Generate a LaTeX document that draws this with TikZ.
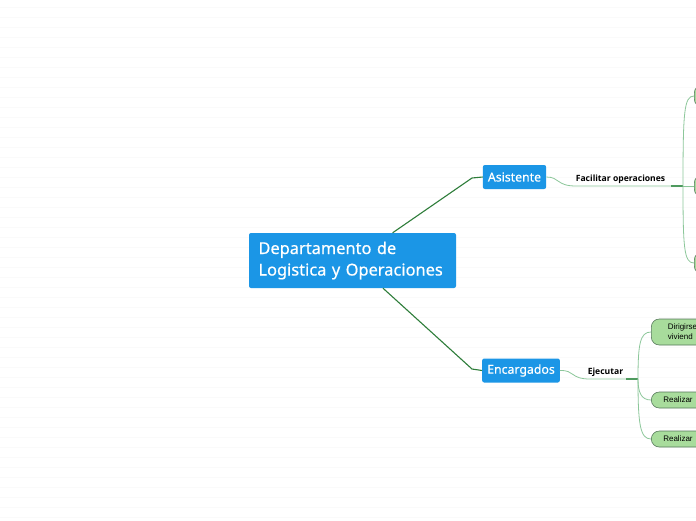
\documentclass[tikz,border=0pt]{standalone}
\usepackage{fontspec}
\setsansfont{Noto Sans}
\newfontfamily\topicfont[FakeBold=0.5]{Noto Sans}
\newfontfamily\leaffont{Liberation Sans}
\newfontfamily\lblfont{Open Sans}
\usepackage{xcolor}
\usetikzlibrary{calc,positioning}

\definecolor{topicblue}{HTML}{1B96E6}
\definecolor{trunkgreen}{HTML}{2E7D3A}
\definecolor{branchgreen}{HTML}{8CC79A}
\definecolor{forkgreen}{HTML}{4E9A5E}
\definecolor{leafgreen}{HTML}{A8DC9C}
\definecolor{leafedge}{HTML}{55785A}

\tikzset{
  central/.style={fill=topicblue, rounded corners=2pt, text=white, align=left,
    minimum width=207, minimum height=55, text width=188, inner xsep=9.5,
    font=\topicfont\fontsize{16.4}{21.5}\selectfont},
  topic/.style={fill=topicblue, rounded corners=2pt, text=white,
    minimum height=24, inner xsep=5, font=\topicfont\fontsize{12.3}{15}\selectfont},
  leaf/.style={fill=leafgreen, draw=leafedge, line width=0.6pt, rounded corners=8pt,
    anchor=west, align=left, text width=60, inner xsep=12, inner ysep=2,
    font=\leaffont\fontsize{8}{10}\selectfont},
  lbl/.style={anchor=base, inner sep=0, font=\lblfont\bfseries\fontsize{8.6}{10}\selectfont},
  trunk/.style={draw=trunkgreen, line width=1.1pt},
  branch/.style={draw=branchgreen, line width=0.8pt},
  forkbit/.style={draw=forkgreen, line width=1.4pt},
  gridline/.style={draw=black!2, line width=1pt}
}

\begin{document}
\begin{tikzpicture}[x=1pt, y=-1pt]
  \useasboundingbox (0,0) rectangle (696,520);
  \clip (0,0) rectangle (696,520);
  \fill[white] (0,0) rectangle (696,520);

  % faint ruled background
  \foreach \y in {7,17,...,517}{
    \draw[gridline] (0,\y) -- (696,\y);
  }

  % topics
  \node[central] (main) at (352.5,260.5) {Departamento de\\Logistica y Operaciones};
  \node[topic, minimum width=61] (asis) at (514.5,177) {Asistente};
  \node[topic, minimum width=76] (enc) at (521,370.5) {Encargados};

  % relation labels
  \node[lbl] (facil) at (620.5,181) {Facilitar operaciones};
  \node[lbl] (ejec) at (605.5,374) {Ejecutar};

  % forks
  \coordinate (fkA) at (683,186);
  \coordinate (fkE) at (638,379);

  % children of the first fork (cut by the page edge)
  \node[leaf, minimum height=22] (fa1) at (694,96) {};
  \node[leaf, minimum height=22] (fa2) at (694,186) {};
  \node[leaf, minimum height=22] (fa3) at (694,263) {};

  % children of the second fork
  \node[leaf, minimum height=26, inner xsep=16.5] (fe1) at (651,332) {Dirigirse\\viviend};
  \node[leaf, minimum height=16] (fe2) at (651,400) {Realizar};
  \node[leaf, minimum height=16] (fe3) at (651,439) {Realizar};

  % main connectors
  \draw[trunk] (main) -- (472,178) -- (asis.west);
  \draw[trunk] (main) -- (472,369) -- (enc.west);

  % topic to fork
  \draw[branch] (asis.east) .. controls (560,177) and (556,186) .. (576,186) -- (fkA);
  \draw[forkbit] ($(fkA)+(-12,0)$) -- (fkA);
  \draw[branch] (enc.east) .. controls (575,370) and (570,379) .. (590,379) -- (fkE);
  \draw[forkbit] ($(fkE)+(-12,0)$) -- (fkE);

  % fork brackets
  \draw[branch] (fkA) .. controls (683,112) and (684,96) .. (fa1.west);
  \draw[branch] (fkA) -- (fa2.west);
  \draw[branch] (fkA) .. controls (683,248) and (684,263) .. (fa3.west);
  \draw[branch] (fkE) .. controls (638,344) and (640,332) .. (fe1.west);
  \draw[branch] (fkE) .. controls (638,392) and (641,400) .. (fe2.west);
  \draw[branch] (fkE) .. controls (638,424) and (640,439) .. (fe3.west);
\end{tikzpicture}
\end{document}
